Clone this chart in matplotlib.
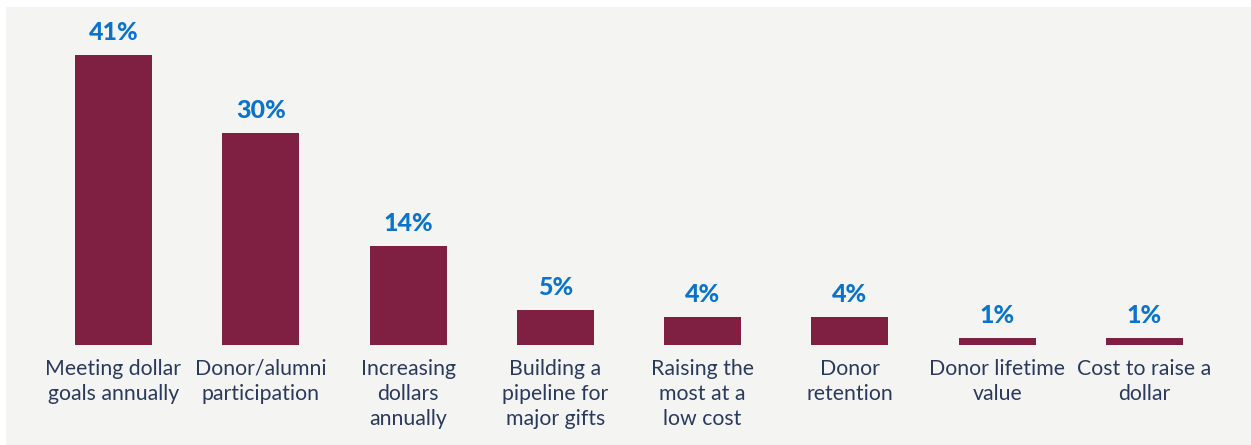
import matplotlib.pyplot as plt
from matplotlib.patches import Rectangle

categories = [
    "Meeting dollar\ngoals annually",
    "Donor/alumni\nparticipation",
    "Increasing\ndollars\nannually",
    "Building a\npipeline for\nmajor gifts",
    "Raising the\nmost at a\nlow cost",
    "Donor\nretention",
    "Donor lifetime\nvalue",
    "Cost to raise a\ndollar",
]
shares = [41, 30, 14, 5, 4, 4, 1, 1]

bar_color = "#7f1f42"
pct_color = "#0a74cc"
text_color = "#2b3a5c"
panel_color = "#f4f4f2"

plt.rcParams["font.family"] = ["Lato", "DejaVu Sans"]

fig = plt.figure(figsize=(12.51, 4.45), dpi=100, facecolor="white")
# light grey panel behind the chart, drawn beneath the axes
fig.patches.append(Rectangle((6 / 1251, 0), 1 - 6 / 1251, 1 - 7 / 445,
                             transform=fig.transFigure, facecolor=panel_color,
                             edgecolor="none", zorder=-1))

ax = fig.add_axes([39.85 / 1251, 100 / 445, 1178.35 / 1251, 290 / 445])
ax.set_facecolor("none")

x = list(range(len(shares)))
ax.bar(x, shares, width=0.523, color=bar_color)

for i, v in enumerate(shares):
    ax.annotate(f"{v}%", (i, v), xytext=(0, 8), textcoords="offset points",
                ha="center", va="bottom", fontsize=18, fontweight="black",
                color=pct_color, annotation_clip=False)
    ax.annotate(categories[i], (i, 0), xytext=(0, -10), textcoords="offset points",
                ha="center", va="top", fontsize=15.3, color=text_color,
                linespacing=1.32, annotation_clip=False)

ax.set_xlim(-0.5, 7.5)
ax.set_ylim(0, 41)
ax.axis("off")

fig.savefig("out.png", dpi=100, facecolor="white")
